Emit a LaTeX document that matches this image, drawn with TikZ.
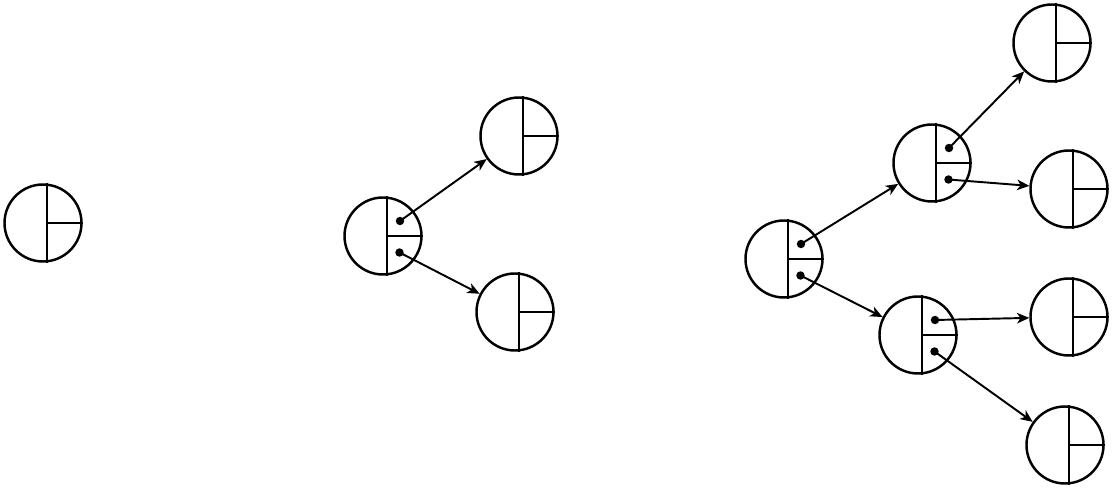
\documentclass[tikz,border=0pt]{standalone}
\usepackage{tikz}
\usetikzlibrary{shapes,arrows.meta,positioning}

\begin{document}
\begin{tikzpicture}
    % Define styles
    \tikzstyle{cell} = [circle, draw=black, line width=1.4pt, minimum size=1.54cm, inner sep=0pt]
    \tikzstyle{arrow} = [line width=1.1pt,-{Stealth[length=7pt,width=6pt,inset=2pt]}]
    \tikzstyle{part} = [line width=1.4pt]

    \useasboundingbox (0,0) rectangle (22.24,-9.94);

    % Tree 1
    \node [cell] (one) at (0.86,-4.46) {};

    % Tree 2
    \node [cell] (tworoot) at (7.66,-4.72) {};
    \node [cell] (twoup) at (10.38,-2.72) {};
    \node [cell] (twodown) at (10.30,-6.24) {};

    % Tree 3
    \node [cell] (threeroot) at (15.68,-5.18) {};
    \node [cell] (threeup) at (18.64,-3.26) {};
    \node [cell] (threedown) at (18.36,-6.70) {};
    \node [cell] (leafa) at (21.04,-0.86) {};
    \node [cell] (leafb) at (21.38,-3.78) {};
    \node [cell] (leafc) at (21.38,-6.34) {};
    \node [cell] (leafd) at (21.30,-8.90) {};

    % Fields of each record
    \foreach \n in {one,tworoot,twoup,twodown,threeroot,threeup,threedown,leafa,leafb,leafc,leafd}
        \draw [part] (\n.84) -- (\n.-84) (\n.84 |- \n.center) -- (\n.east);

    % Pointer dots
    \foreach \n in {tworoot,threeroot,threeup,threedown} {
        \path (\n.center) ++(0.34,0.30) coordinate (\n-l);
        \path (\n.center) ++(0.33,-0.33) coordinate (\n-r);
        \fill (\n-l) circle (2.4pt);
        \fill (\n-r) circle (2.4pt);
    }

    % Arrows
    \draw [arrow] (tworoot-l) -- (twoup);
    \draw [arrow] (tworoot-r) -- (twodown);
    \draw [arrow] (threeroot-l) -- (threeup);
    \draw [arrow] (threeroot-r) -- (threedown);
    \draw [arrow] (threeup-l) -- (leafa);
    \draw [arrow] (threeup-r) -- (leafb);
    \draw [arrow] (threedown-l) -- (leafc);
    \draw [arrow] (threedown-r) -- (leafd);
\end{tikzpicture}
\end{document}
